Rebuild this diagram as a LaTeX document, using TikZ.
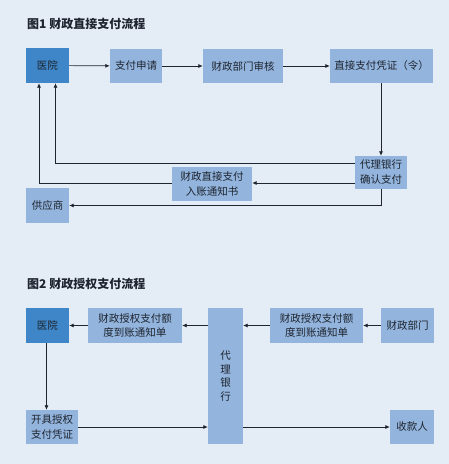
\documentclass[tikz,border=0pt]{standalone}
\usepackage{fontspec}
\newfontfamily\cjk{Noto Sans CJK SC}
\usetikzlibrary{positioning,arrows.meta}
\definecolor{paneback}{HTML}{E4ECF5}
\definecolor{boxlight}{HTML}{93B4DC}
\definecolor{boxdark}{HTML}{3E86C8}
\definecolor{inkdark}{HTML}{1E2530}

\begin{document}
\begin{tikzpicture}[x=1pt, y=-1pt,
  font=\cjk\fontsize{10.5}{15}\selectfont, text=inkdark,
  box/.style={fill=boxlight, align=center, inner sep=1pt, minimum height=34pt},
  hosp/.style={box, fill=boxdark, minimum width=43pt, minimum height=35pt},
  ttl/.style={anchor=west, inner sep=0pt, font=\cjk\bfseries\fontsize{12}{14}\selectfont},
  arr/.style={-{Latex[length=4.5pt,width=4pt]}, draw=inkdark, line width=0.7pt}]
\fill[paneback] (0,0) rectangle (449,464);
\node[ttl] (t1) at (27,24) {图1\ 财政直接支付流程};
\node[hosp] (h1) at (47.5,65.5) {医院};
\node[box, minimum width=52pt] (ap) at (136,66) {支付申请};
\node[box, minimum width=80pt] (au) at (243,66) {财政部门审核};
\node[box, minimum width=103pt] (vo) at (381.5,66) {直接支付凭证（令）};
\node[box, minimum width=52pt, minimum height=33pt] (b1) at (381,172.5) {代理银行\\确认支付};
\node[box, minimum width=80pt] (n1) at (212,184) {财政直接支付\\入账通知书};
\node[box, minimum width=43pt, minimum height=35pt] (su) at (47.5,205.5) {供应商};
\draw[arr] (h1) -- (ap);
\draw[arr] (ap) -- (au);
\draw[arr] (au) -- (vo);
\draw[arr] (vo.south -| b1.north) -- (b1.north);
\draw[arr] ([yshift=9.5pt]b1.west) -| ([xshift=8pt]h1.south);
\draw[arr] ([yshift=-10.5pt]b1.west) -- ([yshift=-10.5pt]b1.west -| n1.east);
\draw[arr] ([yshift=1pt]n1.west) -| ([xshift=-8.5pt]h1.south);
\draw[arr] (b1.south) |- (su.east);
\node[ttl] (t2) at (27,284) {图2\ 财政授权支付流程};
\node[hosp] (h2) at (47.5,325.5) {医院};
\node[box, minimum width=94pt, minimum height=35pt, font=\cjk\fontsize{10.5}{14}\selectfont] (n2l) at (135,325.5) {财政授权支付额\\度到账通知单};
\node[box, minimum width=35pt, minimum height=136pt, font=\cjk\fontsize{10.5}{13.5}\selectfont] (b2) at (225.5,376) {代\\理\\银\\行};
\node[box, minimum width=93pt, minimum height=35pt, font=\cjk\fontsize{10.5}{14}\selectfont] (n2r) at (316.5,325.5) {财政授权支付额\\度到账通知单};
\node[box, minimum width=53pt, minimum height=35pt] (fd) at (407.5,325.5) {财政部门};
\node[box, minimum width=52pt] (is) at (52,427) {开具授权\\支付凭证};
\node[box, minimum width=44pt] (pa) at (412,427) {收款人};
\draw[arr] (fd) -- (n2r);
\draw[arr] (n2r.west) -- (n2r.west -| b2.east);
\draw[arr] (b2.west |- n2l.east) -- (n2l.east);
\draw[arr] (n2l) -- (h2);
\draw[arr] ([xshift=-1pt]h2.south) -- ([xshift=-1pt]h2.south |- is.north);
\draw[arr] (is.east) -- (is.east -| b2.west);
\draw[arr] (b2.east |- pa.west) -- (pa.west);
\end{tikzpicture}
\end{document}
